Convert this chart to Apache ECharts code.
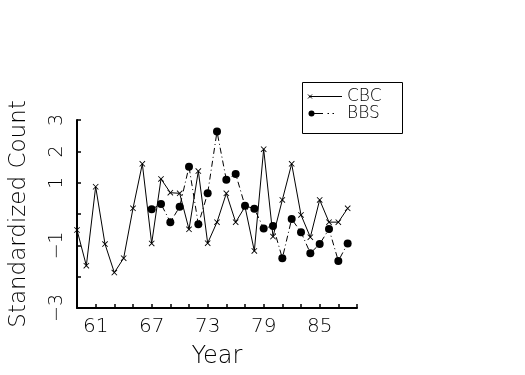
<!DOCTYPE html>
<html>
<head>
<meta charset="utf-8">
<script src="https://cdn.jsdelivr.net/npm/echarts@6/dist/echarts.min.js"></script>
<style>
html,body{margin:0;padding:0;background:#fff;}
#c{width:525px;height:375px;}
</style>
</head>
<body>
<div id="c"></div>
<script>
var cbcYears = [59,60,61,62,63,64,65,66,67,68,69,70,71,72,73,74,75,76,77,78,79,80,81,82,83,84,85,86,87,88];
var cbcValues = [-0.51,-1.65,0.87,-0.96,-1.87,-1.41,0.18,1.60,-0.94,1.12,0.68,0.66,-0.49,1.37,-0.93,-0.26,0.66,-0.26,0.23,-1.18,2.07,-0.72,0.45,1.60,-0.03,-0.74,0.45,-0.26,-0.26,0.18];
var bbsYears = [67,68,69,70,71,72,73,74,75,76,77,78,79,80,81,82,83,84,85,86,87,88];
var bbsValues = [0.15,0.32,-0.26,0.23,1.51,-0.33,0.66,2.63,1.09,1.28,0.26,0.17,-0.46,-0.38,-1.41,-0.16,-0.58,-1.25,-0.96,-0.48,-1.50,-0.94];
var xTickLabels = [61,67,73,79,85];
var yTickLabels = [3,2,1,-1,-3];
var seriesNames = ['CBC','BBS'];
var xTitle = 'Year';
var yTitle = 'Standardized Count';

function pairs(xs, ys){ return xs.map(function(x,i){ return [x, ys[i]]; }); }

var FONT = 'DejaVu Sans';
var crossPath = 'path://M0,1L1,0L10,9L9,10Z M9,0L10,1L1,10L0,9Z';

var chart = echarts.init(document.getElementById('c'), null, {renderer:'canvas'});
chart.setOption({
  backgroundColor: '#ffffff',
  animation: false,
  grid: {left: 67, right: 168, top: 120, bottom: 67, containLabel: false},
  xAxis: {
    type: 'value', min: 59, max: 89, interval: 2,
    name: xTitle, nameLocation: 'middle', nameGap: 37,
    nameTextStyle: {fontFamily: FONT, fontSize: 24, color: '#000', fontWeight: 'lighter'},
    axisLine: {show: true, onZero: false, lineStyle: {color: '#000', width: 2}},
    axisTick: {show: true, inside: true, length: 4, lineStyle: {color: '#000', width: 1.5}},
    axisLabel: {
      margin: 9, color: '#000', fontFamily: FONT, fontSize: 20, fontWeight: 'lighter',
      formatter: function(v){ return xTickLabels.indexOf(v) >= 0 ? String(v) : ''; }
    },
    splitLine: {show: false}
  },
  yAxis: {
    type: 'value', min: -3, max: 3, interval: 1,
    name: yTitle, nameLocation: 'middle', nameGap: 46, nameRotate: 90,
    nameTextStyle: {fontFamily: FONT, fontSize: 23, color: '#000', fontWeight: 'lighter'},
    axisLine: {show: true, onZero: false, lineStyle: {color: '#000', width: 2}},
    axisTick: {show: true, inside: true, length: 4, lineStyle: {color: '#000', width: 1.5}},
    axisLabel: {
      margin: 10, rotate: 90, color: '#000', fontFamily: FONT, fontSize: 19, fontWeight: 'lighter',
      formatter: function(v){ return yTickLabels.indexOf(v) >= 0 ? String(v).replace('-', '\u2212') : ''; }
    },
    splitLine: {show: false}
  },
  series: [
    {
      name: seriesNames[0], type: 'line', data: pairs(cbcYears, cbcValues),
      symbol: crossPath, symbolSize: 6, showAllSymbol: true,
      itemStyle: {color: '#000'},
      lineStyle: {color: '#000', width: 1},
      silent: true
    },
    {
      name: seriesNames[1], type: 'line', data: pairs(bbsYears, bbsValues),
      symbol: 'circle', symbolSize: 8, showAllSymbol: true,
      itemStyle: {color: '#000'},
      lineStyle: {color: '#000', width: 1, type: [6,3,1,3]},
      silent: true
    }
  ],
  graphic: [
    {type: 'rect', shape: {x: 302.5, y: 82.5, width: 100, height: 51}, style: {fill: 'none', stroke: '#000', lineWidth: 1}},
    {type: 'line', shape: {x1: 309, y1: 96.5, x2: 342, y2: 96.5}, style: {stroke: '#000', lineWidth: 1}},
    {type: 'line', shape: {x1: 308, y1: 94.5, x2: 312, y2: 98.5}, style: {stroke: '#000', lineWidth: 1}},
    {type: 'line', shape: {x1: 312, y1: 94.5, x2: 308, y2: 98.5}, style: {stroke: '#000', lineWidth: 1}},
    {type: 'text', style: {x: 347, y: 97, text: seriesNames[0], fill: '#000', fontFamily: FONT, fontSize: 17, fontWeight: 'lighter', verticalAlign: 'middle'}},
    {type: 'line', shape: {x1: 311, y1: 113.5, x2: 323, y2: 113.5}, style: {stroke: '#000', lineWidth: 1}},
    {type: 'circle', shape: {cx: 311.5, cy: 113.5, r: 3}, style: {fill: '#000'}},
    {type: 'line', shape: {x1: 327.5, y1: 113.5, x2: 329, y2: 113.5}, style: {stroke: '#000', lineWidth: 1}},
    {type: 'line', shape: {x1: 332.5, y1: 113.5, x2: 334, y2: 113.5}, style: {stroke: '#000', lineWidth: 1}},
    {type: 'text', style: {x: 347, y: 114, text: seriesNames[1], fill: '#000', fontFamily: FONT, fontSize: 17, fontWeight: 'lighter', verticalAlign: 'middle'}}
  ]
});
</script>
</body>
</html>
